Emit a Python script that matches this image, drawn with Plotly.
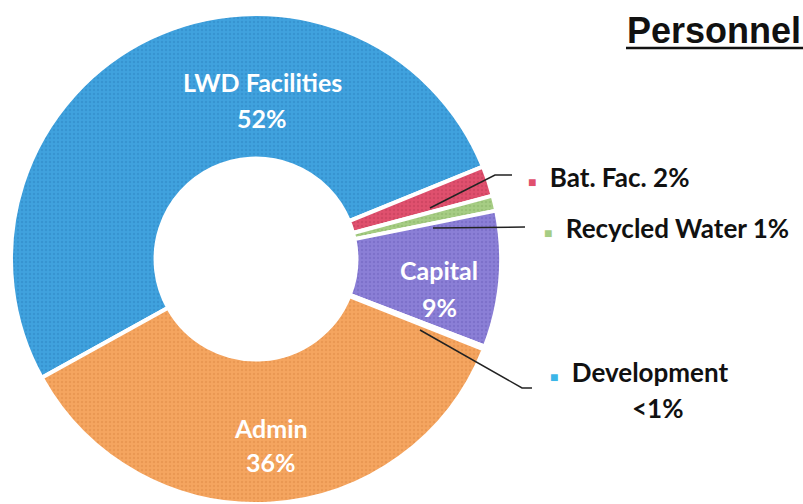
import plotly.graph_objects as go

# slice data (clockwise from lower-left)
labels = ["LWD Facilities", "Bat. Fac.", "Recycled Water", "Capital", "Development", "Admin"]
values = [52, 2, 1, 9, 0.2, 36]
colors = ["#40A2DE", "#E0506E", "#A6CD84", "#8B7FD6", "#3BB6E8", "#F5A560"]
dots = ["#2B7FBF", "#B83652", "#82AD62", "#6A5DB8", "#2190C0", "#D9843E"]

# texts
inside_names = ["LWD Facilities", "Admin", "Capital"]
inside_pcts = ["52%", "36%", "9%"]
outside_texts = ["Bat. Fac. 2%", "Recycled Water 1%", "Development"]
outside_colors = ["#E0506E", "#A6CD84", "#3BB6E8"]
title_text = "Personnel"

W, H = 803, 504


def px(x):
    return x / W


def py(y):
    return 1 - y / H


fig = go.Figure()

fig.add_trace(go.Pie(
    labels=labels,
    values=values,
    sort=False,
    direction="clockwise",
    rotation=241,
    hole=0.41,
    textinfo="none",
    showlegend=False,
    marker=dict(colors=colors,
                line=dict(color="white", width=4),
                pattern=dict(shape=".", fgcolor=dots, fgopacity=0.4,
                             size=4, solidity=0.3, fillmode="overlay")),
    domain=dict(x=[px(11), px(501)], y=[0, py(14)]),
))

annots = []
white_font = dict(family="Lato", size=25, color="white")
inside_pos = [(262, 82, 118), (271, 428, 462), (439, 270, 307)]
for name, pct, (x, y1, y2) in zip(inside_names, inside_pcts, inside_pos):
    annots.append(dict(x=px(x), y=py(y1), text="<b>%s</b>" % name, font=white_font))
    annots.append(dict(x=px(x), y=py(y2), text="<b>%s</b>" % pct, font=white_font))

black_font = dict(family="Lato", size=26, color="#111111")
outside_pos = [(526, 177), (542, 228), (548, 372)]
for t, c, (x, y) in zip(outside_texts, outside_colors, outside_pos):
    annots.append(dict(x=px(x), y=py(y), xanchor="left",
                       text="<span style='color:%s;font-size:14px'>■</span>  <b>%s</b>" % (c, t),
                       font=black_font))
annots.append(dict(x=px(657), y=py(408), text="<b>&lt;1%</b>", font=black_font))

annots.append(dict(x=1.0, y=py(30), xanchor="right",
                   text="<b>%s</b>" % title_text,
                   font=dict(family="Liberation Sans", size=36, color="#111111")))

for a in annots:
    a.setdefault("xanchor", "center")
    a.update(xref="paper", yref="paper", yanchor="middle", showarrow=False)

# leader lines
line_style = dict(color="#222222", width=1.5)
leaders = [
    [(430, 208), (495, 175), (512, 175)],
    [(433, 228), (525, 227)],
    [(420, 330), (522, 388), (532, 388)],
]
shapes = []
for pts in leaders:
    path = "M " + " L ".join("%.4f,%.4f" % (px(x), py(y)) for x, y in pts)
    shapes.append(dict(type="path", path=path, xref="paper", yref="paper", line=line_style))
# title underline
shapes.append(dict(type="line", x0=px(626), x1=px(803), y0=py(48), y1=py(48),
                   xref="paper", yref="paper", line=dict(color="#111111", width=2.5)))

fig.update_layout(
    width=W, height=H,
    margin=dict(l=0, r=0, t=0, b=0),
    paper_bgcolor="white",
    plot_bgcolor="white",
    annotations=annots,
    shapes=shapes,
)

# drop the default 8px body margin so the figure fills the window exactly
fig.write_html("out.html", config={"displayModeBar": False},
               post_script="document.body.style.margin='0px';")
